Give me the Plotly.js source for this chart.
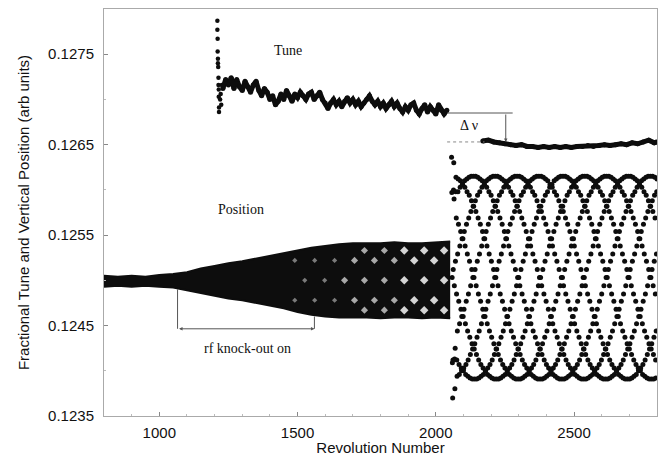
<!DOCTYPE html>
<html>
<head>
<meta charset="utf-8">
<script src="https://cdn.plot.ly/plotly-3.0.1.min.js"></script>
<style>html,body{margin:0;padding:0;background:#fff;}#chart{width:658px;height:456px;}</style>
</head>
<body>
<div id="chart"></div>
<script>
// ---- Data ----
const xTickVals = [1000, 1500, 2000, 2500];
const yTickVals = [0.1235, 0.1245, 0.1255, 0.1265, 0.1275];
const yTickText = ['0.1235', '0.1245', '0.1255', '0.1265', '0.1275'];

// Tune: settling column of points at the start
const tuneStartX = [1210, 1210, 1211, 1211, 1212, 1212, 1213, 1214, 1214, 1215, 1215, 1216, 1216, 1220, 1222, 1224, 1226];
const tuneStartY = [0.12787, 0.12777, 0.12767, 0.12753, 0.12745, 0.12740, 0.12736, 0.12724, 0.12716, 0.12711, 0.12703, 0.12691, 0.12686, 0.12700, 0.12706, 0.12694, 0.12716];

// Tune before the jump
const tuneX = [1230,1240,1250,1260,1270,1280,1290,1300,1310,1320,1330,1340,1350,1360,1370,1380,1390,1400,1410,1420,1430,1440,1450,1460,1470,1480,1490,1500,1510,1520,1530,1540,1550,1560,1570,1580,1590,1600,1610,1620,1630,1640,1650,1660,1670,1680,1690,1700,1710,1720,1730,1740,1750,1760,1770,1780,1790,1800,1810,1820,1830,1840,1850,1860,1870,1880,1890,1900,1910,1920,1930,1940,1950,1960,1970,1980,1990,2000,2010,2020,2030,2040];
const tuneY = [0.12712,0.12722,0.12716,0.12724,0.12712,0.12722,0.12714,0.12710,0.12720,0.12714,0.12708,0.12716,0.12720,0.12710,0.12704,0.12712,0.12708,0.12700,0.12704,0.12694,0.12698,0.12706,0.12700,0.12710,0.12704,0.12698,0.12706,0.12702,0.12708,0.12704,0.12700,0.12706,0.12708,0.12700,0.12704,0.12708,0.12700,0.12696,0.12690,0.12696,0.12700,0.12694,0.12698,0.12692,0.12698,0.12702,0.12696,0.12700,0.12694,0.12698,0.12692,0.12696,0.12700,0.12704,0.12698,0.12694,0.12698,0.12692,0.12696,0.12690,0.12694,0.12698,0.12692,0.12696,0.12690,0.12686,0.12692,0.12688,0.12694,0.12696,0.12688,0.12684,0.12690,0.12694,0.12686,0.12692,0.12688,0.12684,0.12694,0.12688,0.12684,0.12688];

// Tune after the jump
const tuneAfterX = [2170,2190,2210,2230,2250,2270,2290,2310,2330,2350,2370,2390,2410,2430,2450,2470,2490,2510,2530,2550,2570,2590,2610,2630,2650,2670,2690,2710,2730,2750,2770,2790,2800];
const tuneAfterY = [0.12654,0.12655,0.12653,0.12652,0.12651,0.12650,0.12649,0.12650,0.12648,0.12648,0.12647,0.12648,0.12647,0.12648,0.12647,0.12648,0.12647,0.12648,0.12648,0.12649,0.12648,0.12649,0.12650,0.12649,0.12650,0.12651,0.12650,0.12652,0.12651,0.12653,0.12655,0.12652,0.12653];

// Position: dense band envelope before the jump
const bandX = [800,850,900,950,1000,1050,1100,1150,1200,1250,1300,1350,1400,1450,1500,1550,1600,1650,1700,1750,1800,1850,1900,1950,2000,2052];
const bandTop = [0.12505,0.12504,0.12505,0.12504,0.12506,0.12507,0.12509,0.12513,0.12516,0.12519,0.12521,0.12524,0.12527,0.12530,0.12533,0.12536,0.12538,0.12540,0.12541,0.12541,0.12541,0.12542,0.12541,0.12541,0.12542,0.12543];
const bandBottom = [0.12493,0.12494,0.12493,0.12494,0.12493,0.12492,0.12489,0.12486,0.12483,0.12480,0.12478,0.12475,0.12472,0.12469,0.12465,0.12462,0.12460,0.12459,0.12459,0.12459,0.12458,0.12459,0.12459,0.12458,0.12459,0.12458];

// Light openings in the dense band's lattice (small, medium, large)
const holeSmallX = [1490,1490,1526,1562,1562,1598,1634,1634];
const holeSmallY = [0.12522,0.12478,0.12500,0.12522,0.12478,0.12500,0.12522,0.12478];
const holeMidX = [1670,1706,1706,1742,1742,1742,1778,1778,1814,1814,1814,1850,1850];
const holeMidY = [0.12500,0.12522,0.12478,0.12500,0.12533,0.12467,0.12522,0.12478,0.12500,0.12533,0.12467,0.12522,0.12478];
const holeBigX = [1886,1886,1886,1922,1922,1958,1958,1958,1994,1994,2030,2030,2030];
const holeBigY = [0.12500,0.12533,0.12467,0.12522,0.12478,0.12500,0.12533,0.12467,0.12522,0.12478,0.12500,0.12533,0.12467];

// Position after the jump: one point per revolution, starting at revolution 2057
const lateRevStart = 2057;
const lateY = [
0.12636,0.12597,0.12503,0.12409,0.12370,0.12412,0.12512,0.12600,
0.12630,0.12590,0.12494,0.12413,0.12380,0.12425,0.12521,0.12598,
0.12614,0.12569,0.12485,0.12412,0.12394,0.12444,0.12529,0.12598,
0.12612,0.12562,0.12477,0.12407,0.12396,0.12452,0.12538,0.12603,
0.12610,0.12554,0.12468,0.12403,0.12400,0.12460,0.12546,0.12606,
0.12606,0.12546,0.12460,0.12400,0.12403,0.12468,0.12554,0.12610,
0.12603,0.12538,0.12452,0.12396,0.12407,0.12477,0.12562,0.12612,
0.12598,0.12529,0.12444,0.12394,0.12412,0.12485,0.12569,0.12614,
0.12594,0.12521,0.12437,0.12392,0.12418,0.12494,0.12576,0.12615,
0.12588,0.12512,0.12430,0.12391,0.12424,0.12503,0.12582,0.12615,
0.12582,0.12503,0.12424,0.12391,0.12430,0.12512,0.12588,0.12615,
0.12576,0.12494,0.12418,0.12391,0.12437,0.12521,0.12594,0.12614,
0.12569,0.12485,0.12412,0.12392,0.12444,0.12529,0.12598,0.12612,
0.12562,0.12477,0.12407,0.12394,0.12452,0.12538,0.12603,0.12610,
0.12554,0.12468,0.12403,0.12396,0.12460,0.12546,0.12606,0.12606,
0.12546,0.12460,0.12400,0.12400,0.12468,0.12554,0.12610,0.12603,
0.12538,0.12452,0.12396,0.12403,0.12477,0.12562,0.12612,0.12598,
0.12529,0.12444,0.12394,0.12407,0.12485,0.12569,0.12614,0.12594,
0.12521,0.12437,0.12392,0.12412,0.12494,0.12576,0.12615,0.12588,
0.12512,0.12430,0.12391,0.12418,0.12503,0.12582,0.12615,0.12582,
0.12503,0.12424,0.12391,0.12424,0.12512,0.12588,0.12615,0.12576,
0.12494,0.12418,0.12391,0.12430,0.12521,0.12594,0.12614,0.12569,
0.12485,0.12412,0.12392,0.12437,0.12529,0.12598,0.12612,0.12562,
0.12477,0.12407,0.12394,0.12444,0.12538,0.12603,0.12610,0.12554,
0.12468,0.12403,0.12396,0.12452,0.12546,0.12606,0.12606,0.12546,
0.12460,0.12400,0.12400,0.12460,0.12554,0.12610,0.12603,0.12538,
0.12452,0.12396,0.12403,0.12468,0.12562,0.12612,0.12598,0.12529,
0.12444,0.12394,0.12407,0.12477,0.12569,0.12614,0.12594,0.12521,
0.12437,0.12392,0.12412,0.12485,0.12576,0.12615,0.12588,0.12512,
0.12430,0.12391,0.12418,0.12494,0.12582,0.12615,0.12582,0.12503,
0.12424,0.12391,0.12424,0.12503,0.12588,0.12615,0.12576,0.12494,
0.12418,0.12391,0.12430,0.12512,0.12594,0.12614,0.12569,0.12485,
0.12412,0.12392,0.12437,0.12521,0.12598,0.12612,0.12562,0.12477,
0.12407,0.12394,0.12444,0.12529,0.12603,0.12610,0.12554,0.12468,
0.12403,0.12396,0.12452,0.12538,0.12606,0.12606,0.12546,0.12460,
0.12400,0.12400,0.12460,0.12546,0.12610,0.12603,0.12538,0.12452,
0.12396,0.12403,0.12468,0.12554,0.12612,0.12598,0.12529,0.12444,
0.12394,0.12407,0.12477,0.12562,0.12614,0.12594,0.12521,0.12437,
0.12392,0.12412,0.12485,0.12569,0.12615,0.12588,0.12512,0.12430,
0.12391,0.12418,0.12494,0.12576,0.12615,0.12582,0.12503,0.12424,
0.12391,0.12424,0.12503,0.12582,0.12615,0.12576,0.12494,0.12418,
0.12391,0.12430,0.12512,0.12588,0.12614,0.12569,0.12485,0.12412,
0.12392,0.12437,0.12521,0.12594,0.12612,0.12562,0.12477,0.12407,
0.12394,0.12444,0.12529,0.12598,0.12610,0.12554,0.12468,0.12403,
0.12396,0.12452,0.12538,0.12603,0.12606,0.12546,0.12460,0.12400,
0.12400,0.12460,0.12546,0.12606,0.12603,0.12538,0.12452,0.12396,
0.12403,0.12468,0.12554,0.12610,0.12598,0.12529,0.12444,0.12394,
0.12407,0.12477,0.12562,0.12612,0.12594,0.12521,0.12437,0.12392,
0.12412,0.12485,0.12569,0.12614,0.12588,0.12512,0.12430,0.12391,
0.12418,0.12494,0.12576,0.12615,0.12582,0.12503,0.12424,0.12391,
0.12424,0.12503,0.12582,0.12615,0.12576,0.12494,0.12418,0.12391,
0.12430,0.12512,0.12588,0.12615,0.12569,0.12485,0.12412,0.12392,
0.12437,0.12521,0.12594,0.12614,0.12562,0.12477,0.12407,0.12394,
0.12444,0.12529,0.12598,0.12612,0.12554,0.12468,0.12403,0.12396,
0.12452,0.12538,0.12603,0.12610,0.12546,0.12460,0.12400,0.12400,
0.12460,0.12546,0.12606,0.12606,0.12538,0.12452,0.12396,0.12403,
0.12468,0.12554,0.12610,0.12603,0.12529,0.12444,0.12394,0.12407,
0.12477,0.12562,0.12612,0.12598,0.12521,0.12437,0.12392,0.12412,
0.12485,0.12569,0.12614,0.12594,0.12512,0.12430,0.12391,0.12418,
0.12494,0.12576,0.12615,0.12588,0.12503,0.12424,0.12391,0.12424,
0.12503,0.12582,0.12615,0.12582,0.12494,0.12418,0.12391,0.12430,
0.12512,0.12588,0.12615,0.12576,0.12485,0.12412,0.12392,0.12437,
0.12521,0.12594,0.12614,0.12569,0.12477,0.12407,0.12394,0.12444,
0.12529,0.12598,0.12612,0.12562,0.12468,0.12403,0.12396,0.12452,
0.12538,0.12603,0.12610,0.12554,0.12460,0.12400,0.12400,0.12460,
0.12546,0.12606,0.12606,0.12546,0.12452,0.12396,0.12403,0.12468,
0.12554,0.12610,0.12603,0.12538,0.12444,0.12394,0.12407,0.12477,
0.12562,0.12612,0.12598,0.12529,0.12437,0.12392,0.12412,0.12485,
0.12569,0.12614,0.12594,0.12521,0.12430,0.12391,0.12418,0.12494,
0.12576,0.12615,0.12588,0.12512,0.12424,0.12391,0.12424,0.12503,
0.12582,0.12615,0.12582,0.12503,0.12418,0.12391,0.12430,0.12512,
0.12588,0.12615,0.12576,0.12494,0.12412,0.12392,0.12437,0.12521,
0.12594,0.12614,0.12569,0.12485,0.12407,0.12394,0.12444,0.12529,
0.12598,0.12612,0.12562,0.12477,0.12403,0.12396,0.12452,0.12538,
0.12603,0.12610,0.12554,0.12468,0.12400,0.12400,0.12460,0.12546,
0.12606,0.12606,0.12546,0.12460,0.12396,0.12403,0.12468,0.12554,
0.12610,0.12603,0.12538,0.12452,0.12394,0.12407,0.12477,0.12562,
0.12612,0.12598,0.12529,0.12444,0.12392,0.12412,0.12485,0.12569,
0.12614,0.12594,0.12521,0.12437,0.12391,0.12418,0.12494,0.12576,
0.12615,0.12588,0.12512,0.12430,0.12391,0.12424,0.12503,0.12582,
0.12615,0.12582,0.12503,0.12424,0.12391,0.12430,0.12512,0.12588,
0.12615,0.12576,0.12494,0.12418,0.12392,0.12437,0.12521,0.12594,
0.12614,0.12569,0.12485,0.12412,0.12394,0.12444,0.12529,0.12598,
0.12612,0.12562,0.12477,0.12407,0.12396,0.12452,0.12538,0.12603,
0.12610,0.12554,0.12468,0.12403,0.12400,0.12460,0.12546,0.12606,
0.12606,0.12546,0.12460,0.12400,0.12403,0.12468,0.12554,0.12610,
0.12603,0.12538,0.12452,0.12396,0.12407,0.12477,0.12562,0.12612,
0.12598,0.12529,0.12444,0.12394,0.12412,0.12485,0.12569,0.12614,
0.12594,0.12521,0.12437,0.12392,0.12418,0.12494,0.12576,0.12615,
0.12588,0.12512,0.12430,0.12391,0.12424,0.12503,0.12582,0.12615,
0.12582,0.12503,0.12424,0.12391,0.12430,0.12512,0.12588,0.12615,
0.12576,0.12494,0.12418,0.12391,0.12437,0.12521,0.12594,0.12614,
0.12569,0.12485,0.12412,0.12392,0.12444,0.12529,0.12598,0.12612
];
const lateX = lateY.map((_, i) => lateRevStart + i);

// Annotation anchors (data coordinates)
const knockOnRev = 1066, knockEndRev = 1561, knockLevel = 0.124464;
const tuneJumpTop = 0.12685, tuneJumpBottom = 0.12653;

// ---- Traces ----
const ink = '#0d0d0d';
const traces = [
  {x: bandX, y: bandBottom, type: 'scatter', mode: 'lines', line: {color: ink, width: 2}, hoverinfo: 'skip'},
  {x: bandX, y: bandTop, type: 'scatter', mode: 'lines', line: {color: ink, width: 2}, fill: 'tonexty', fillcolor: ink, hoverinfo: 'skip'},
  {x: holeSmallX, y: holeSmallY, type: 'scatter', mode: 'markers', marker: {color: '#7a7a7a', size: 4, symbol: 'diamond'}},
  {x: holeMidX, y: holeMidY, type: 'scatter', mode: 'markers', marker: {color: '#a8a8a8', size: 5.5, symbol: 'diamond'}},
  {x: holeBigX, y: holeBigY, type: 'scatter', mode: 'markers', marker: {color: '#d4d4d4', size: 6.5, symbol: 'diamond'}},
  {x: lateX, y: lateY, type: 'scatter', mode: 'markers', marker: {color: ink, size: 5}},
  {x: tuneStartX, y: tuneStartY, type: 'scatter', mode: 'markers', marker: {color: ink, size: 4.5}},
  {x: tuneX, y: tuneY, type: 'scatter', mode: 'lines+markers', line: {color: ink, width: 5}, marker: {color: ink, size: 5}},
  {x: tuneAfterX, y: tuneAfterY, type: 'scatter', mode: 'lines+markers', line: {color: ink, width: 5}, marker: {color: ink, size: 5}}
];

const serif = 'Liberation Serif, Times New Roman, serif';
const guide = '#555';
const layout = {
  width: 658, height: 456,
  margin: {l: 104, r: 1, t: 9, b: 40},
  paper_bgcolor: '#fff', plot_bgcolor: '#fff',
  showlegend: false,
  font: {family: 'Liberation Sans, Arial, sans-serif', size: 15, color: '#111'},
  xaxis: {
    range: [800, 2800], tickvals: xTickVals, ticks: 'inside', ticklen: 4, tickcolor: '#888',
    showline: true, linecolor: '#aaa', linewidth: 1, mirror: true, showgrid: false, zeroline: false,
    minor: {ticks: 'inside', dtick: 100, ticklen: 2, tickcolor: '#bbb'},
    ticklabelstandoff: 3,
    title: {text: 'Revolution Number', font: {size: 15}, standoff: 4}
  },
  yaxis: {
    range: [0.1235, 0.1280], tickvals: yTickVals, ticktext: yTickText, ticks: 'inside', ticklen: 4, tickcolor: '#888',
    showline: true, linecolor: '#aaa', linewidth: 1, mirror: true, showgrid: false, zeroline: false,
    minor: {ticks: 'inside', dtick: 0.0005, ticklen: 2, tickcolor: '#bbb'},
    ticklabelstandoff: 6,
    title: {text: 'Fractional Tune and Vertical Position (arb units)', font: {size: 15}, standoff: 14}
  },
  shapes: [
    {type: 'line', xref: 'x', yref: 'y', x0: knockOnRev, x1: knockOnRev, y0: 0.12490, y1: knockLevel, line: {color: guide, width: 1}},
    {type: 'line', xref: 'x', yref: 'y', x0: knockEndRev, x1: knockEndRev, y0: 0.12460, y1: knockLevel, line: {color: guide, width: 1}},
    {type: 'line', xref: 'x', yref: 'y', x0: 2041, x1: 2278, y0: tuneJumpTop, y1: tuneJumpTop, line: {color: guide, width: 1}},
    {type: 'line', xref: 'x', yref: 'y', x0: 2041, x1: 2176, y0: tuneJumpBottom, y1: tuneJumpBottom, line: {color: '#888', width: 1, dash: 'dot'}}
  ],
  annotations: [
    {x: knockEndRev, y: knockLevel, ax: knockOnRev, ay: knockLevel, xref: 'x', yref: 'y', axref: 'x', ayref: 'y', text: '', showarrow: true, arrowhead: 2, arrowside: 'end+start', arrowsize: 0.7, arrowwidth: 1, arrowcolor: guide},
    {x: 2253, y: tuneJumpBottom, ax: 2253, ay: tuneJumpTop, xref: 'x', yref: 'y', axref: 'x', ayref: 'y', text: '', showarrow: true, arrowhead: 2, arrowsize: 0.7, arrowwidth: 1, arrowcolor: guide},
    {x: 1466, y: 0.12754, xref: 'x', yref: 'y', text: 'Tune', showarrow: false, font: {family: serif, size: 14, color: '#111'}},
    {x: 1295, y: 0.12578, xref: 'x', yref: 'y', text: 'Position', showarrow: false, font: {family: serif, size: 14, color: '#111'}},
    {x: 1320, y: 0.12425, xref: 'x', yref: 'y', text: 'rf knock-out on', showarrow: false, font: {family: serif, size: 14, color: '#111'}},
    {x: 2121, y: 0.12671, xref: 'x', yref: 'y', text: 'Δ ν', showarrow: false, font: {family: serif, size: 14, color: '#111'}}
  ]
};

Plotly.newPlot('chart', traces, layout, {staticPlot: true, displayModeBar: false});
</script>
</body>
</html>
